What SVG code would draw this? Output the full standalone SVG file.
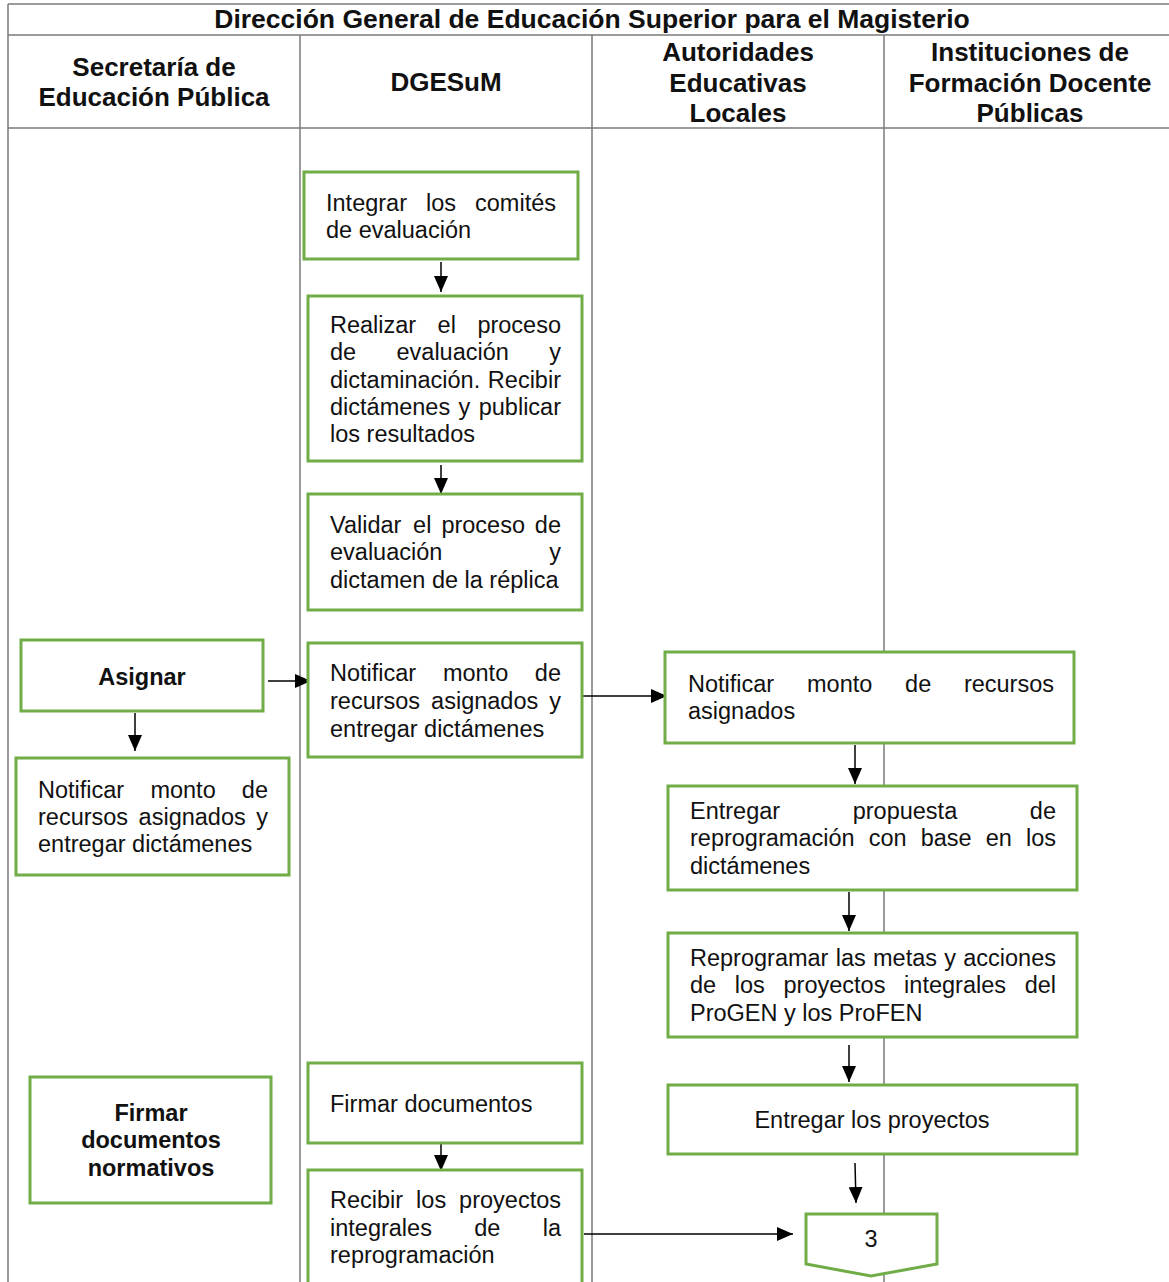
<svg xmlns="http://www.w3.org/2000/svg" width="1169" height="1282" viewBox="0 0 1169 1282">
<style>
.grid{stroke:#7a7a7a;stroke-width:1.5;fill:none}
.box{fill:#fff;stroke:#70AD47;stroke-width:3}
.t{font-family:"Liberation Sans",Arial,sans-serif;font-size:23.5px;fill:#111}
.b{font-weight:bold}
.h{font-family:"Liberation Sans",Arial,sans-serif;font-size:26px;font-weight:bold;fill:#111;text-anchor:middle}
.e{text-anchor:end}
.m{text-anchor:middle}
.c{stroke:#000;stroke-width:1.5;fill:none;marker-end:url(#ah)}
</style>
<defs>
<marker id="ah" markerUnits="userSpaceOnUse" markerWidth="16" markerHeight="14" refX="16" refY="7" orient="auto">
<path d="M0,0 L16,7 L0,14 z" fill="#000"/>
</marker>
</defs>
<rect width="1169" height="1282" fill="#fff"/>
<g id="grid">
<line class="grid" x1="8" y1="4" x2="1169" y2="4"/>
<line class="grid" x1="8" y1="35" x2="1169" y2="35"/>
<line class="grid" x1="8" y1="128" x2="1169" y2="128"/>
<line class="grid" x1="8" y1="4" x2="8" y2="1282"/>
<line class="grid" x1="300" y1="35" x2="300" y2="1282"/>
<line class="grid" x1="592" y1="35" x2="592" y2="1282"/>
<line class="grid" x1="884" y1="35" x2="884" y2="1282"/>
<text class="h" x="592" y="28" style="font-size:26.5px">Dirección General de Educación Superior para el Magisterio</text>
<text class="h" x="154" y="76">Secretaría de</text>
<text class="h" x="154" y="106">Educación Pública</text>
<text class="h" x="446" y="91">DGESuM</text>
<text class="h" x="738" y="61">Autoridades</text>
<text class="h" x="738" y="92">Educativas</text>
<text class="h" x="738" y="122">Locales</text>
<text class="h" x="1030" y="61">Instituciones de</text>
<text class="h" x="1030" y="92">Formación Docente</text>
<text class="h" x="1030" y="122">Públicas</text>
</g>
<g id="connectors">
<line class="c" x1="441" y1="262" x2="441" y2="292"/>
<line class="c" x1="441" y1="465" x2="441" y2="494"/>
<line class="c" x1="268" y1="681" x2="311" y2="681"/>
<line class="c" x1="135" y1="713" x2="135" y2="751"/>
<line class="c" x1="582" y1="696" x2="667" y2="696"/>
<line class="c" x1="855" y1="745" x2="855" y2="784"/>
<line class="c" x1="849" y1="892" x2="849" y2="931"/>
<line class="c" x1="849" y1="1045" x2="849" y2="1082"/>
<line class="c" x1="441" y1="1135" x2="441" y2="1171"/>
<line class="c" x1="855" y1="1163" x2="856" y2="1203"/>
<line class="c" x1="584" y1="1234" x2="793" y2="1234"/>
</g>
<g id="n1">
<rect class="box" x="304" y="172" width="274" height="87"/>
<text class="t" y="211"><tspan x="326">Integrar</tspan><tspan x="426">los</tspan><tspan class="e" x="556">comités</tspan></text>
<text class="t" x="326" y="238">de evaluación</text>
</g>
<g id="n2">
<rect class="box" x="308" y="296" width="274" height="165"/>
<text class="t" y="333"><tspan x="330">Realizar</tspan><tspan x="437.6">el</tspan><tspan class="e" x="561">proceso</tspan></text>
<text class="t" y="360"><tspan x="330">de</tspan><tspan x="396.5">evaluación</tspan><tspan class="e" x="561">y</tspan></text>
<text class="t" y="388"><tspan x="330">dictaminación.</tspan><tspan class="e" x="561">Recibir</tspan></text>
<text class="t" y="415"><tspan x="330">dictámenes</tspan><tspan x="458.6">y</tspan><tspan class="e" x="561">publicar</tspan></text>
<text class="t" x="330" y="442">los resultados</text>
</g>
<g id="n3">
<rect class="box" x="308" y="494" width="274" height="116"/>
<text class="t" y="533"><tspan x="330">Validar</tspan><tspan x="413.1">el</tspan><tspan x="441.4">proceso</tspan><tspan class="e" x="561">de</tspan></text>
<text class="t" y="560"><tspan x="330">evaluación</tspan><tspan class="e" x="561">y</tspan></text>
<text class="t" x="330" y="588">dictamen de la réplica</text>
</g>
<g id="n4">
<rect class="box" x="21" y="640" width="242" height="71"/>
<text class="t b m" x="142" y="685">Asignar</text>
</g>
<g id="n5">
<rect class="box" x="308" y="643" width="274" height="114"/>
<text class="t" y="681"><tspan x="330">Notificar</tspan><tspan x="442.9">monto</tspan><tspan class="e" x="561">de</tspan></text>
<text class="t" y="709"><tspan x="330">recursos</tspan><tspan x="431.1">asignados</tspan><tspan class="e" x="561">y</tspan></text>
<text class="t" x="330" y="737">entregar dictámenes</text>
</g>
<g id="n6">
<rect class="box" x="16" y="758" width="273" height="117"/>
<text class="t" y="798"><tspan x="38">Notificar</tspan><tspan x="150.4">monto</tspan><tspan class="e" x="268">de</tspan></text>
<text class="t" y="825"><tspan x="38">recursos</tspan><tspan x="138.6">asignados</tspan><tspan class="e" x="268">y</tspan></text>
<text class="t" x="38" y="852">entregar dictámenes</text>
</g>
<g id="n7">
<rect class="box" x="665" y="652" width="409" height="91"/>
<text class="t" y="692"><tspan x="688">Notificar</tspan><tspan x="807">monto</tspan><tspan x="905.1">de</tspan><tspan class="e" x="1054">recursos</tspan></text>
<text class="t" x="688" y="719">asignados</text>
</g>
<g id="n8">
<rect class="box" x="668" y="786" width="409" height="104"/>
<text class="t" y="819"><tspan x="690">Entregar</tspan><tspan x="852.7">propuesta</tspan><tspan class="e" x="1056">de</tspan></text>
<text class="t" y="846"><tspan x="690">reprogramación</tspan><tspan x="868.7">con</tspan><tspan x="920.7">base</tspan><tspan x="985.8">en</tspan><tspan class="e" x="1056">los</tspan></text>
<text class="t" x="690" y="874">dictámenes</text>
</g>
<g id="n9">
<rect class="box" x="668" y="933" width="409" height="104"/>
<text class="t" y="966"><tspan x="690">Reprogramar</tspan><tspan x="835.7">las</tspan><tspan x="873">metas</tspan><tspan x="944.3">y</tspan><tspan class="e" x="1056">acciones</tspan></text>
<text class="t" y="993"><tspan x="690">de</tspan><tspan x="734.8">los</tspan><tspan x="783.5">proyectos</tspan><tspan x="904.1">integrales</tspan><tspan class="e" x="1056">del</tspan></text>
<text class="t" x="690" y="1021">ProGEN y los ProFEN</text>
</g>
<g id="n10">
<rect class="box" x="668" y="1085" width="409" height="69"/>
<text class="t m" x="872" y="1128">Entregar los proyectos</text>
</g>
<g id="n11">
<rect class="box" x="30" y="1077" width="241" height="126"/>
<text class="t b m" x="151" y="1121">Firmar</text>
<text class="t b m" x="151" y="1148">documentos</text>
<text class="t b m" x="151" y="1176">normativos</text>
</g>
<g id="n12">
<rect class="box" x="308" y="1063" width="274" height="80"/>
<text class="t" x="330" y="1112">Firmar documentos</text>
</g>
<g id="n13">
<rect class="box" x="308" y="1170" width="274" height="125"/>
<text class="t" y="1208"><tspan x="330">Recibir</tspan><tspan x="416.1">los</tspan><tspan class="e" x="561">proyectos</tspan></text>
<text class="t" y="1236"><tspan x="330">integrales</tspan><tspan x="474.3">de</tspan><tspan class="e" x="561">la</tspan></text>
<text class="t" x="330" y="1263">reprogramación</text>
</g>
<g id="n14">
<path class="box" d="M806,1214 L937,1214 L937,1264 L871,1276 L806,1264 Z"/>
<text class="t m" x="871" y="1247">3</text>
</g>
</svg>
